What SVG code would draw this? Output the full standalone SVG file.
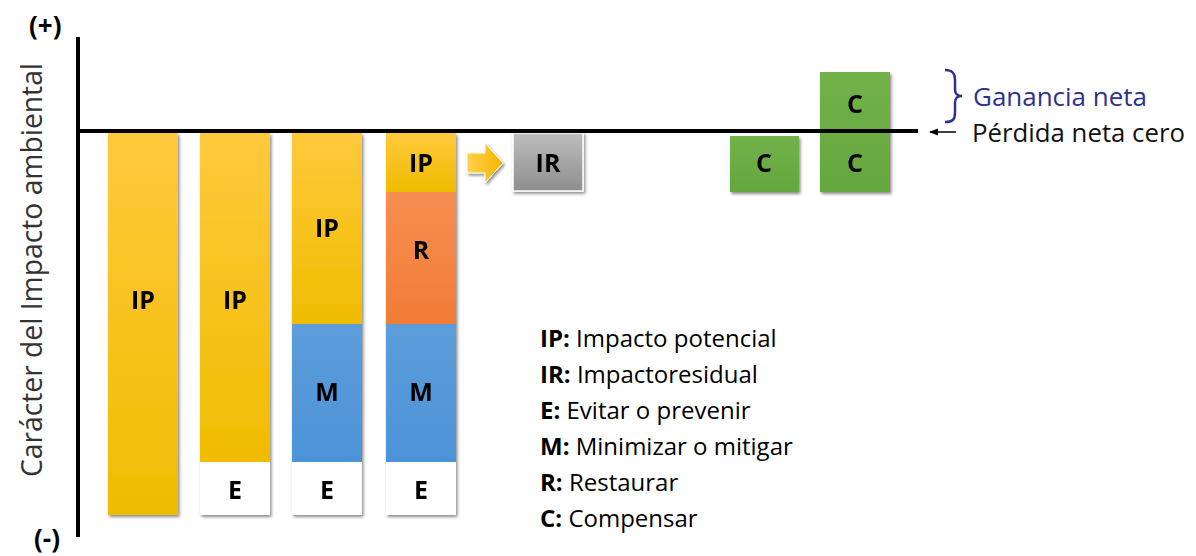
<svg xmlns="http://www.w3.org/2000/svg" width="1196" height="556" viewBox="0 0 1196 556">
<defs>
<linearGradient id="gY" x1="0" y1="0" x2="0" y2="1"><stop offset="0" stop-color="#FFC93C"/><stop offset="1" stop-color="#F0BC00"/></linearGradient>
<linearGradient id="gO" x1="0" y1="0" x2="0" y2="1"><stop offset="0" stop-color="#F68E52"/><stop offset="1" stop-color="#F27C36"/></linearGradient>
<linearGradient id="gB" x1="0" y1="0" x2="0" y2="1"><stop offset="0" stop-color="#5C9DDA"/><stop offset="1" stop-color="#4C93D8"/></linearGradient>
<linearGradient id="gG" x1="0" y1="0" x2="0" y2="1"><stop offset="0" stop-color="#73B149"/><stop offset="1" stop-color="#63A73E"/></linearGradient>
<linearGradient id="gR" x1="0" y1="0" x2="0" y2="1"><stop offset="0" stop-color="#BDBDBD"/><stop offset="1" stop-color="#8E8E8E"/></linearGradient>
<linearGradient id="gA" x1="0" y1="0" x2="1" y2="0"><stop offset="0" stop-color="#FFD24A"/><stop offset="1" stop-color="#F7B500"/></linearGradient>
<filter id="sh" x="-20%" y="-20%" width="140%" height="140%"><feDropShadow dx="1.5" dy="2" stdDeviation="1.5" flood-color="#000" flood-opacity="0.45"/></filter>
<marker id="ah" viewBox="0 0 10 10" refX="9" refY="5" markerWidth="6" markerHeight="6" orient="auto"><path d="M0,1 L10,5 L0,9 z" fill="#000"/></marker>
<style>
.lbl{font-family:"Open Sans","Noto Sans",sans-serif;font-weight:bold;font-size:25px;fill:#000;text-anchor:middle}
.leg{font-family:"Open Sans","Noto Sans",sans-serif;font-size:24px;fill:#000}
.leg .b{font-weight:bold}
.axis{stroke:#000;stroke-width:4;fill:none}
.pm{font-family:"Open Sans","Noto Sans",sans-serif;font-weight:bold;font-size:26px;fill:#000}
.side{font-family:"Open Sans","Noto Sans",sans-serif;font-size:25px}
</style>
</defs>
<rect width="1196" height="556" fill="#fff"/>

<g id="bar1" filter="url(#sh)">
<rect x="108" y="133" width="70" height="382" fill="url(#gY)"/>
<text class="lbl" x="143" y="309">IP</text>
</g>
<g id="bar2" filter="url(#sh)">
<rect x="200" y="133" width="70" height="329" fill="url(#gY)"/>
<rect x="200" y="462" width="70" height="53" fill="#fff"/>
<text class="lbl" x="235" y="309">IP</text>
<text class="lbl" x="235" y="499">E</text>
</g>
<g id="bar3" filter="url(#sh)">
<rect x="292" y="133" width="70" height="191" fill="url(#gY)"/>
<rect x="292" y="324" width="70" height="138" fill="url(#gB)"/>
<rect x="292" y="462" width="70" height="53" fill="#fff"/>
<text class="lbl" x="327" y="237">IP</text>
<text class="lbl" x="327" y="401">M</text>
<text class="lbl" x="327" y="499">E</text>
</g>
<g id="bar4" filter="url(#sh)">
<rect x="386" y="133" width="70" height="59" fill="url(#gY)"/>
<rect x="386" y="192" width="70" height="132" fill="url(#gO)"/>
<rect x="386" y="324" width="70" height="138" fill="url(#gB)"/>
<rect x="386" y="462" width="70" height="53" fill="#fff"/>
<text class="lbl" x="421" y="172">IP</text>
<text class="lbl" x="421" y="259">R</text>
<text class="lbl" x="421" y="401">M</text>
<text class="lbl" x="421" y="499">E</text>
</g>
<g id="ir" filter="url(#sh)">
<rect x="513" y="133" width="70" height="58" fill="url(#gR)" stroke="#fff" stroke-width="1.5"/>
<text class="lbl" x="548" y="172">IR</text>
</g>
<g id="c1" filter="url(#sh)">
<rect x="730" y="136" width="69" height="56" fill="url(#gG)"/>
<text class="lbl" x="764" y="172">C</text>
</g>
<g id="c2" filter="url(#sh)">
<rect x="820" y="72" width="70" height="120" fill="url(#gG)"/>
<text class="lbl" x="855" y="113">C</text>
<text class="lbl" x="855" y="172">C</text>
</g>

<g id="axes">
<line class="axis" x1="78" y1="37" x2="78" y2="537"/>
<line class="axis" x1="78" y1="131" x2="918" y2="131"/>
<text class="pm" x="29" y="35">(+)</text>
<text class="pm" x="34" y="548">(-)</text>
<text x="0" y="0" transform="translate(42,270) rotate(-90)" text-anchor="middle" font-family="'Open Sans','Noto Sans',sans-serif" font-size="29" fill="#333" textLength="414" lengthAdjust="spacingAndGlyphs">Carácter del Impacto ambiental</text>
</g>

<g id="connectors">
<path d="M467,153 L485,153 L485,143 L503,163 L485,183 L485,173 L467,173 Z" fill="url(#gA)" stroke="#fff" stroke-width="1" filter="url(#sh)"/>
<line x1="956" y1="132" x2="930" y2="132" stroke="#000" stroke-width="1.5" marker-end="url(#ah)"/>
</g>

<g id="brace">
<path d="M945,70 C953,70 955,74 955,80 L955,89 C955,94 957,96 962,96 C957,96 955,98 955,103 L955,113 C955,119 953,122 945,122" fill="none" stroke="#2E3192" stroke-width="2.5"/>
<text class="side" x="973" y="106" fill="#2E3192" textLength="174" lengthAdjust="spacingAndGlyphs">Ganancia neta</text>
<text class="side" x="972" y="142" fill="#111" textLength="213" lengthAdjust="spacingAndGlyphs">Pérdida neta cero</text>
</g>

<g id="legend" class="leg">
<text x="540" y="347"><tspan class="b">IP:</tspan> Impacto potencial</text>
<text x="540" y="383"><tspan class="b">IR:</tspan> Impactoresidual</text>
<text x="540" y="419"><tspan class="b">E:</tspan> Evitar o prevenir</text>
<text x="540" y="455"><tspan class="b">M:</tspan> Minimizar o mitigar</text>
<text x="540" y="491"><tspan class="b">R:</tspan> Restaurar</text>
<text x="540" y="527"><tspan class="b">C:</tspan> Compensar</text>
</g>
</svg>
